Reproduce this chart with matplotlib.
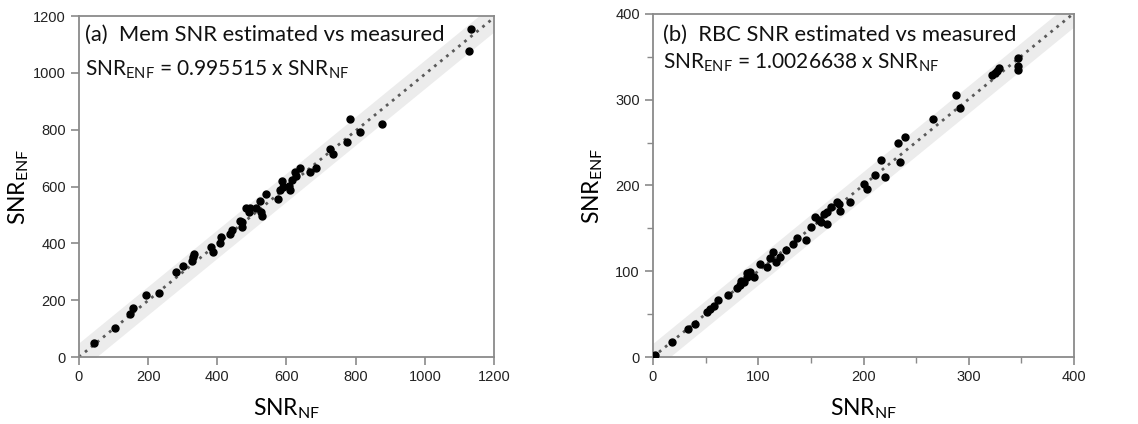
import matplotlib
matplotlib.use("Agg")
import numpy as np
import matplotlib.pyplot as plt
from matplotlib.ticker import MultipleLocator

plt.rcParams['font.family'] = ['Liberation Sans', 'DejaVu Sans']
plt.rcParams['mathtext.fontset'] = 'custom'
plt.rcParams['mathtext.rm'] = 'Lato'
plt.rcParams['mathtext.it'] = 'Lato:italic'
plt.rcParams['mathtext.bf'] = 'Lato:bold'

# (a) Mem SNR
mem_nf = [42, 103, 148, 156, 195, 231, 280, 302, 328, 330, 334, 381, 387, 407, 411,
          436, 443, 465, 470, 471, 482, 492, 495, 511, 522, 527, 530, 540, 575, 581,
          588, 590, 607, 611, 617, 624, 628, 638, 669, 684, 727, 734, 775, 783, 813,
          877, 1127, 1134]
mem_enf = [48, 103, 150, 172, 219, 224, 300, 320, 338, 352, 362, 388, 371, 403, 421,
           432, 447, 479, 456, 474, 524, 512, 524, 526, 550, 512, 497, 573, 555, 588,
           620, 599, 603, 588, 623, 650, 638, 665, 650, 665, 732, 714, 757, 837, 792,
           820, 1078, 1155]
mem_slope = 0.995515

# (b) RBC SNR
rbc_nf = [2, 18, 33, 40, 51, 54, 58, 62, 71, 80, 83, 84, 86, 89, 89, 92, 96, 102,
          108, 111, 114, 117, 121, 126, 133, 137, 145, 150, 154, 158, 160, 162, 165,
          165, 169, 175, 177, 178, 187, 200, 203, 211, 217, 220, 233, 235, 239, 266,
          288, 292, 322, 325, 327, 329, 347, 347, 347]
rbc_enf = [2, 18, 33, 39, 53, 56, 60, 66, 72, 80, 84, 89, 88, 93, 98, 99, 93, 109,
           105, 115, 122, 111, 117, 125, 132, 139, 137, 152, 163, 160, 158, 167, 169,
           155, 175, 181, 178, 170, 181, 202, 196, 212, 230, 210, 250, 227, 257, 278,
           305, 290, 329, 331, 333, 337, 349, 339, 335]
rbc_slope = 1.0026638

fig = plt.figure(figsize=(11.38, 4.24), dpi=100)
ax1 = fig.add_axes([0.0694, 0.158, 0.3647, 0.804])
ax2 = fig.add_axes([0.5738, 0.158, 0.370, 0.809])

spine_c = '#8a8a8a'
txt_font = ['Lato', 'DejaVu Sans']


def panel(ax, x, y, slope, lim, hw, major, minor, title, eq, tpos):
    xx = np.array([0, lim])
    ax.fill_between(xx, slope * xx - hw, slope * xx + hw, color='#ececec', lw=0, zorder=1)
    ax.plot(xx, slope * xx, color='#5a5a5a', lw=2, ls=(0, (1, 1.8)), zorder=2)
    ax.plot(x, y, 'o', color='black', ms=5, zorder=3)
    ax.set_xlim(0, lim)
    ax.set_ylim(0, lim)
    ax.xaxis.set_major_locator(MultipleLocator(major))
    ax.yaxis.set_major_locator(MultipleLocator(major))
    if minor:
        ax.xaxis.set_minor_locator(MultipleLocator(minor))
        ax.yaxis.set_minor_locator(MultipleLocator(minor))
    for s in ax.spines.values():
        s.set_color(spine_c)
        s.set_linewidth(1.3)
    ax.tick_params(which='major', length=6, width=1.2, color=spine_c,
                   labelsize=10.5, labelcolor='#222222')
    ax.tick_params(which='minor', length=4, width=1.0, color=spine_c)
    ax.set_xlabel(r'SNR$_{\mathregular{NF}}$', fontsize=16.5, family=txt_font)
    ax.set_ylabel(r'SNR$_{\mathregular{ENF}}$', fontsize=16.5, family=txt_font)
    ax.xaxis.set_label_coords(0.5, -0.115)
    ax.yaxis.set_label_coords(-0.115, 0.5)
    ax.text(tpos[0], tpos[1], title, transform=ax.transAxes, fontsize=15.8,
            family=txt_font, va='center', ha='left', color='#111111')
    ax.text(tpos[0], tpos[2], eq, transform=ax.transAxes, fontsize=15,
            family=txt_font, va='center', ha='left', color='#111111')


panel(ax1, mem_nf, mem_enf, mem_slope, 1200, 50, 200, None,
      '(a)  Mem SNR estimated vs measured',
      r'SNR$_{\mathregular{ENF}}$ = 0.995515 x SNR$_{\mathregular{NF}}$',
      (0.015, 0.944, 0.842))
panel(ax2, rbc_nf, rbc_enf, rbc_slope, 400, 16, 100, 50,
      '(b)  RBC SNR estimated vs measured',
      r'SNR$_{\mathregular{ENF}}$ = 1.0026638 x SNR$_{\mathregular{NF}}$',
      (0.024, 0.939, 0.857))

fig.savefig('out.png', dpi=100)
